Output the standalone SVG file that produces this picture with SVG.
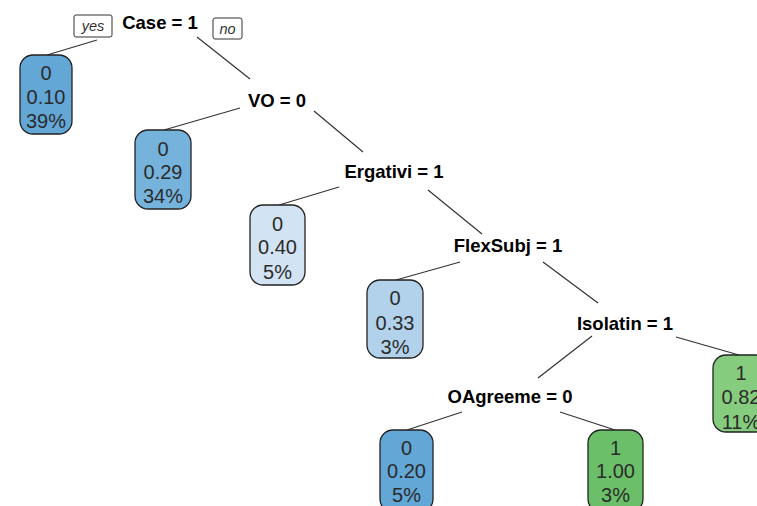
<svg xmlns="http://www.w3.org/2000/svg" width="757" height="506" viewBox="0 0 757 506">
<style>
.split{font-family:"Liberation Sans",Arial,sans-serif;font-weight:bold;font-size:18.5px;fill:#000;text-anchor:middle}
.leaf rect{stroke:#222;stroke-width:1.3}
.leaf text{font-family:"Liberation Sans",Arial,sans-serif;font-size:20px;fill:#2b2b2b;text-anchor:middle}
.lab rect{fill:#fff;stroke:#333;stroke-width:1}
.lab text{font-family:"Liberation Sans",Arial,sans-serif;font-style:italic;font-size:14.5px;fill:#333;text-anchor:middle}
.edges line{stroke:#333;stroke-width:1.2}
</style>
<rect width="757" height="506" fill="#fff"/>
<g class="edges" id="connectors">
<line x1="97" y1="40" x2="47" y2="55"/>
<line x1="197" y1="37" x2="250" y2="79"/>
<line x1="240" y1="108" x2="164" y2="130"/>
<line x1="314" y1="111" x2="363" y2="152"/>
<line x1="339" y1="187" x2="279" y2="205"/>
<line x1="428" y1="190" x2="482" y2="234"/>
<line x1="460" y1="262" x2="396" y2="280"/>
<line x1="543" y1="262" x2="598" y2="303"/>
<line x1="592" y1="336" x2="538" y2="378"/>
<line x1="676" y1="337" x2="739" y2="355"/>
<line x1="462" y1="412" x2="407" y2="430"/>
<line x1="560" y1="412" x2="615" y2="430"/>
</g>
<g id="lab-yes" class="lab"><rect x="74" y="15" width="38" height="22" rx="2"/><text x="93" y="31">yes</text></g>
<g id="lab-no" class="lab"><rect x="213" y="18" width="29" height="21" rx="2"/><text x="227.5" y="34">no</text></g>
<g id="n-case"><text class="split" x="160" y="29">Case = 1</text></g>
<g id="n-vo"><text class="split" x="277" y="107">VO = 0</text></g>
<g id="n-erg"><text class="split" x="394" y="178">Ergativi = 1</text></g>
<g id="n-flex"><text class="split" x="508" y="252">FlexSubj = 1</text></g>
<g id="n-iso"><text class="split" x="625" y="330">Isolatin = 1</text></g>
<g id="n-oag"><text class="split" x="510" y="403">OAgreeme = 0</text></g>
<g id="leaf1" class="leaf"><rect x="20" y="55" width="52" height="79" rx="13" fill="#62a7d6"/><text x="46" y="80">0</text><text x="46" y="104">0.10</text><text x="46" y="128">39%</text></g>
<g id="leaf2" class="leaf"><rect x="135" y="130" width="56" height="79" rx="13" fill="#76b3dc"/><text x="163" y="156">0</text><text x="163" y="179">0.29</text><text x="163" y="203">34%</text></g>
<g id="leaf3" class="leaf"><rect x="250" y="205" width="55" height="80" rx="13" fill="#d2e3f3"/><text x="277.5" y="231">0</text><text x="277.5" y="254">0.40</text><text x="277.5" y="279">5%</text></g>
<g id="leaf4" class="leaf"><rect x="367" y="280" width="56" height="78" rx="13" fill="#b2d2eb"/><text x="395" y="305">0</text><text x="395" y="330">0.33</text><text x="395" y="354">3%</text></g>
<g id="leaf5" class="leaf"><rect x="380" y="430" width="53" height="82" rx="13" fill="#62a7d6"/><text x="406.5" y="455">0</text><text x="406.5" y="478">0.20</text><text x="406.5" y="502">5%</text></g>
<g id="leaf6" class="leaf"><rect x="588" y="430" width="55" height="82" rx="13" fill="#6cbf69"/><text x="615.5" y="455">1</text><text x="615.5" y="478">1.00</text><text x="615.5" y="502">3%</text></g>
<g id="leaf7" class="leaf"><rect x="713" y="355" width="56" height="77" rx="13" fill="#86cc7e"/><text x="741" y="380">1</text><text x="741" y="404">0.82</text><text x="741" y="429">11%</text></g>
</svg>
